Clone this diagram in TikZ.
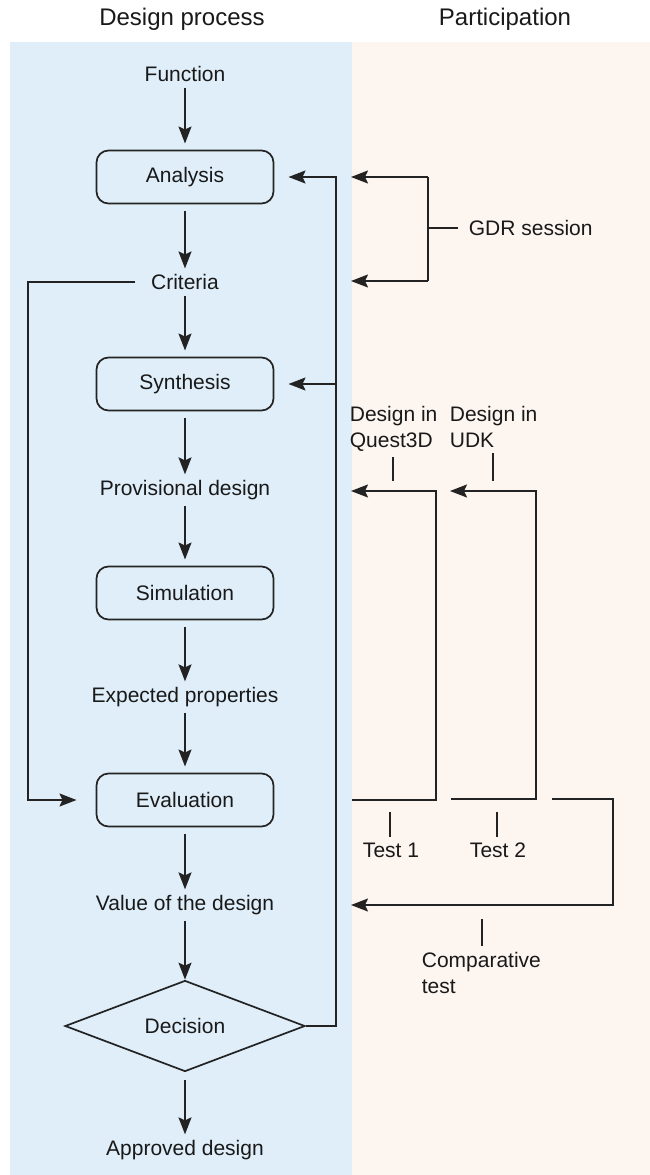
\documentclass[tikz,border=0pt]{standalone}
\usepackage{fontspec}
\setmainfont{Liberation Sans}
\usepackage{xcolor}
\usetikzlibrary{arrows.meta, shapes.geometric, positioning}

\definecolor{processbg}{HTML}{DFEEF9}
\definecolor{partbg}{HTML}{FDF5F0}
\definecolor{linecol}{HTML}{232323}

\begin{document}
\begin{tikzpicture}[x=1pt, y=-1pt,
        line width=1.7pt, draw=linecol,
        >={Stealth[length=17pt, width=13pt, inset=3pt]},
        txt/.style={font=\fontsize{21}{26}\selectfont, text=black!90, inner sep=5pt},
        title/.style={font=\fontsize{24}{28}\selectfont, text=black!90},
        stage/.style={draw, rounded corners=12pt, minimum width=177pt, minimum height=53pt,
            outer sep=7pt, font=\fontsize{21}{26}\selectfont, text=black!90},
        choice/.style={draw, diamond, aspect=2.67, minimum width=240pt, minimum height=91pt,
            inner sep=0pt, font=\fontsize{21}{26}\selectfont, text=black!90}]

    \useasboundingbox (0,0) rectangle (650,1175);
    \fill [processbg] (10,42) rectangle (352,1175);
    \fill [partbg] (352,42) rectangle (650,1175);

    \node [title] (tproc) at (182,19) {Design process};
    \node [title] (tpart) at (505,19) {Participation};

    % design process column
    \node [txt] (func) at (185,74) {Function};
    \node [stage] (anal) at (185,177) {Analysis};
    \node [txt] (crit) at (185,282) {Criteria};
    \node [stage] (synth) at (185,384) {Synthesis};
    \node [txt] (prov) at (185,490) {Provisional design};
    \node [stage] (sim) at (185,593) {Simulation};
    \node [txt] (expt) at (185,697) {Expected properties};
    \node [stage] (evalu) at (185,800) {Evaluation};
    \node [txt] (value) at (185,905) {Value of the design};
    \node [choice] (dec) at (185,1026) {Decision};
    \node [txt] (appr) at (185,1150) {Approved design};

    \draw [->] (func) -- (anal);
    \draw [->] (anal) -- (crit);
    \draw [->] (crit) -- (synth);
    \draw [->] (synth) -- (prov);
    \draw [->] (prov) -- (sim);
    \draw [->] (sim) -- (expt);
    \draw [->] (expt) -- (evalu);
    \draw [->] (evalu) -- (value);
    \draw [->] (value) -- (dec);
    \draw [->, shorten <=8pt] (dec) -- (appr);

    % feedback loops
    \coordinate (lloop) at (28,800);
    \coordinate (rloop) at (336,177);
    \draw [->, shorten <=10pt, shorten >=13pt] (crit.west) -| (lloop) -- (evalu.west);
    \draw [->, shorten >=8pt] (dec.east) -| (rloop) -- (anal.east);
    \draw [->, shorten >=8pt] (rloop |- synth.east) -- (synth.east);

    % participation: GDR session
    \node [txt, anchor=west] (gdr) at (463,228) {GDR session};
    \coordinate (gdrtop) at (428,177);
    \coordinate (gdrbot) at (428,281);
    \coordinate (gdrmid) at (428,228);
    \coordinate (ain) at (351,177);
    \coordinate (cin) at (351,281);
    \draw [->] (gdrtop) -- (ain);
    \draw [->] (gdrbot) -- (cin);
    \draw (gdrtop) -- (gdrbot);
    \draw [shorten >=5pt] (gdrmid) -- (gdr.west);

    % participation: designs in Quest3D and UDK
    \node [txt, align=left, anchor=north west] (q3d) at (344,400) {Design in\\Quest3D};
    \node [txt, align=left, anchor=north west] (udk) at (444,400) {Design in\\UDK};
    \coordinate (q3dtick) at (393,481);
    \coordinate (udktick) at (493,481);
    \draw (q3d.south -| q3dtick) -- (q3dtick);
    \draw (udk.south -| udktick) -- (udktick);

    \coordinate (pin1) at (351,491);
    \coordinate (pin2) at (450,491);
    \coordinate (loop1) at (436,491);
    \coordinate (loop2) at (536,491);
    \coordinate (ev1) at (352,800);
    \coordinate (ev2) at (451,799);
    \draw [->] (ev1) -| (loop1) -- (pin1);
    \draw [->] (ev2) -| (loop2) -- (pin2);

    % participation: tests
    \node [txt] (test1) at (391,850) {Test 1};
    \node [txt] (test2) at (498,850) {Test 2};
    \coordinate (t1tick) at (390,812);
    \coordinate (t2tick) at (497,812);
    \draw (test1.north -| t1tick) -- (t1tick);
    \draw (test2.north -| t2tick) -- (t2tick);

    \coordinate (ev3) at (552,799);
    \coordinate (loop3) at (613,905);
    \coordinate (vin) at (351,905);
    \draw [->] (ev3) -| (loop3) -- (vin);

    \node [txt, align=left, anchor=north west] (comp) at (416,946) {Comparative\\test};
    \coordinate (comptick) at (482,919);
    \draw (comp.north -| comptick) -- (comptick);
\end{tikzpicture}
\end{document}
